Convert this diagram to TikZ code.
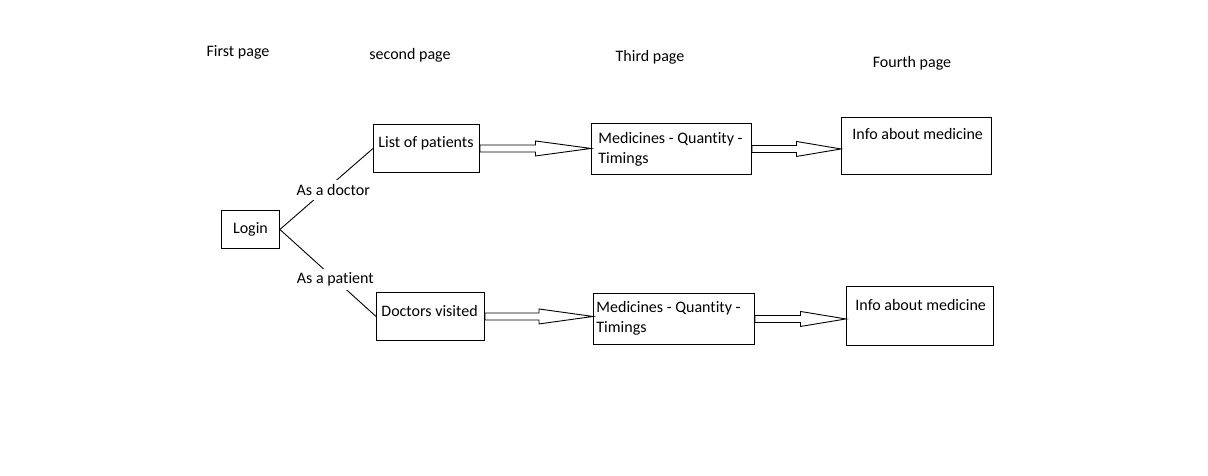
\documentclass[tikz,border=0pt]{standalone}
\usepackage{fontspec}
\setmainfont{Carlito}[Ligatures=NoCommon]
\usetikzlibrary{calc}

% hollow block arrow from the east side of #1 to the west side of #2
\newcommand{\fatarrow}[2]{%
  \draw let \p1=(#1.east), \p2=(#2.west), \n1={(\x1+\x2)/2} in
    (\x1,\y1+3.5pt) -- (\n1,\y1+3.5pt) -- (\n1,\y1+7.5pt) -- (\x2,\y1)
    -- (\n1,\y1-7.5pt) -- (\n1,\y1-3.5pt) -- (\x1,\y1-3.5pt) -- cycle;}

\begin{document}
\begin{tikzpicture}[
  x=1pt, y=-1pt, line width=0.9pt,
  every node/.style={font=\fontsize{16}{19.5}\selectfont},
  box/.style={draw, anchor=north west, inner sep=0pt},
  lbl/.style={anchor=north west, align=left, inner xsep=5pt, inner ysep=8pt},
  page/.style={inner sep=0pt},
  role/.style={fill=white, inner xsep=2pt, inner ysep=4pt}
]
\path[fill=white, use as bounding box] (0,0) rectangle (1208,475);

% page titles
\node[page] (p1) at (238,52) {First page};
\node[page] (p2) at (410,55) {second page};
\node[page] (p3) at (650,57) {Third page};
\node[page] (p4) at (912,63) {Fourth page};

% boxes
\node[box, minimum width=58pt, minimum height=38pt] (login) at (221,210) {Login};
\node[box, minimum width=106pt, minimum height=48pt,
      label={[lbl, yshift=-4pt]north west:List of patients}] (list) at (373,124) {};
\node[box, minimum width=160pt, minimum height=51pt,
      label={[lbl, xshift=2pt, yshift=-1pt]north west:Medicines - Quantity -\\Timings}] (medtop) at (591,123) {};
\node[box, minimum width=150pt, minimum height=57pt,
      label={[lbl, xshift=6pt, yshift=-3pt]north west:Info about medicine}] (infotop) at (841,117) {};
\node[box, minimum width=108pt, minimum height=48pt,
      label={[lbl, yshift=-5pt]north west:Doctors visited}] (doctors) at (376,292) {};
\node[box, minimum width=161pt, minimum height=51pt,
      label={[lbl, xshift=-2pt]north west:Medicines - Quantity -\\Timings}] (medbot) at (593,293) {};
\node[box, minimum width=147pt, minimum height=59pt,
      label={[lbl, xshift=4pt, yshift=-5pt]north west:Info about medicine}] (infobot) at (846,286) {};

% login branches
\draw (login.east) -- node[role, pos=0.574, yshift=-7pt] {As a doctor} (list.west);
\draw (login.east) -- node[role, pos=0.577] {As a patient} (doctors.west);

% block arrows
\fatarrow{list}{medtop}
\fatarrow{medtop}{infotop}
\fatarrow{doctors}{medbot}
\fatarrow{medbot}{infobot}

\end{tikzpicture}
\end{document}
